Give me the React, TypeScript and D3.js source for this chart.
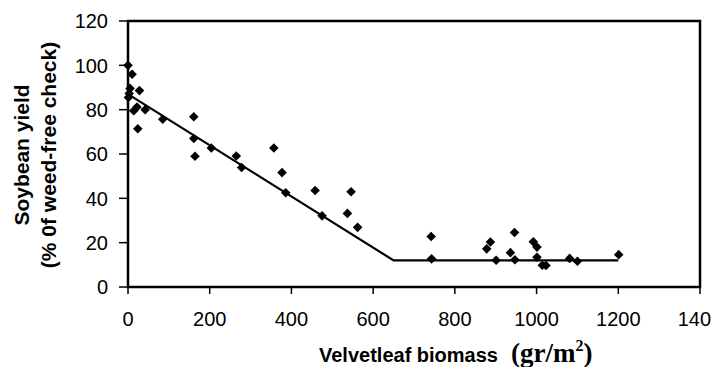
import React from "react";
import * as d3 from "d3";

const biomass = [0, 10, 5, 3, 1, 28, 14, 22, 42, 24, 85, 161, 161, 164, 204, 265, 278, 357, 377, 386, 458, 546, 475, 537, 562, 742, 743, 878, 887, 901, 946, 936, 947, 992, 1001, 1001, 1014, 1023, 1081, 1100, 1201];
const yieldPct = [100, 96, 89.6, 87.3, 85.5, 88.6, 79.5, 81.2, 80, 71.4, 75.7, 76.8, 67, 59, 62.7, 59.1, 53.9, 62.7, 51.6, 42.5, 43.5, 43, 32.1, 33.2, 26.9, 22.8, 12.7, 17.2, 20.3, 12.1, 24.6, 15.5, 12.3, 20.4, 18, 13.4, 9.8, 9.7, 12.9, 11.6, 14.6];

const fitX = [0, 650, 1200];
const fitY = [87, 12, 12];

const xTicks = [0, 200, 400, 600, 800, 1000, 1200, 1400];
const yTicks = [0, 20, 40, 60, 80, 100, 120];

const W = 711;
const H = 367;
const M = { left: 128, right: 700, top: 21, bottom: 287 };

export default function App() {
  const x = d3.scaleLinear().domain([0, 1400]).range([M.left, M.right]);
  const y = d3.scaleLinear().domain([0, 120]).range([M.bottom, M.top]);
  const line = d3
    .line<number>()
    .x((_, i) => x(fitX[i]))
    .y((d) => y(d));
  const sym = d3.symbol().type(d3.symbolSquare).size(46)();
  const font = "'Liberation Sans', Arial, sans-serif";

  return (
    <svg
      width={W}
      height={H}
      style={{ position: "fixed", left: 0, top: 0, background: "#fff" }}
      fontFamily={font}
    >
      <rect x={0} y={0} width={W} height={H} fill="#fff" />
      {/* frame */}
      <rect
        x={M.left}
        y={M.top}
        width={M.right - M.left}
        height={M.bottom - M.top}
        fill="none"
        stroke="#000000"
        strokeWidth={2.5}
      />
      {/* y ticks */}
      {yTicks.map((t) => (
        <g key={"y" + t}>
          <line x1={M.left - 9} x2={M.left} y1={y(t)} y2={y(t)} stroke="#000" strokeWidth={1.5} />
          <text x={108} y={y(t)} dy="0.36em" textAnchor="end" fontSize={20} fill="#000">
            {t}
          </text>
        </g>
      ))}
      {/* x ticks */}
      {xTicks.map((t) => (
        <g key={"x" + t}>
          <line x1={x(t)} x2={x(t)} y1={M.bottom} y2={M.bottom + 7} stroke="#000" strokeWidth={1.5} />
          <text x={x(t)} y={326} textAnchor="middle" fontSize={20} fill="#000">
            {t}
          </text>
        </g>
      ))}
      {/* fitted line */}
      <path d={line(fitY) || ""} fill="none" stroke="#000" strokeWidth={2.2} />
      {/* points */}
      {biomass.map((b, i) => (
        <path
          key={"p" + i}
          d={sym || ""}
          transform={`translate(${x(b)},${y(yieldPct[i])}) rotate(45)`}
          fill="#000"
        />
      ))}
      {/* y title */}
      <text
        transform="translate(29,155) rotate(-90)"
        textAnchor="middle"
        fontSize={21}
        fontWeight="bold"
        fill="#000"
      >
        Soybean yield
      </text>
      <text
        transform="translate(56,155) rotate(-90)"
        textAnchor="middle"
        fontSize={21}
        fontWeight="bold"
        fill="#000"
      >
        (% 0f weed-free check)
      </text>
      {/* x title */}
      <text x={319} y={362} fontSize={20} fontWeight="bold" fill="#000">
        Velvetleaf biomass
      </text>
      <text
        x={511}
        y={362}
        fontSize={27}
        fontWeight="bold"
        fill="#000"
        fontFamily="'Liberation Serif', 'Times New Roman', serif"
      >
        (gr/m
        <tspan fontSize={16} dy={-11}>2</tspan>
        <tspan dy={11}>)</tspan>
      </text>
    </svg>
  );
}
